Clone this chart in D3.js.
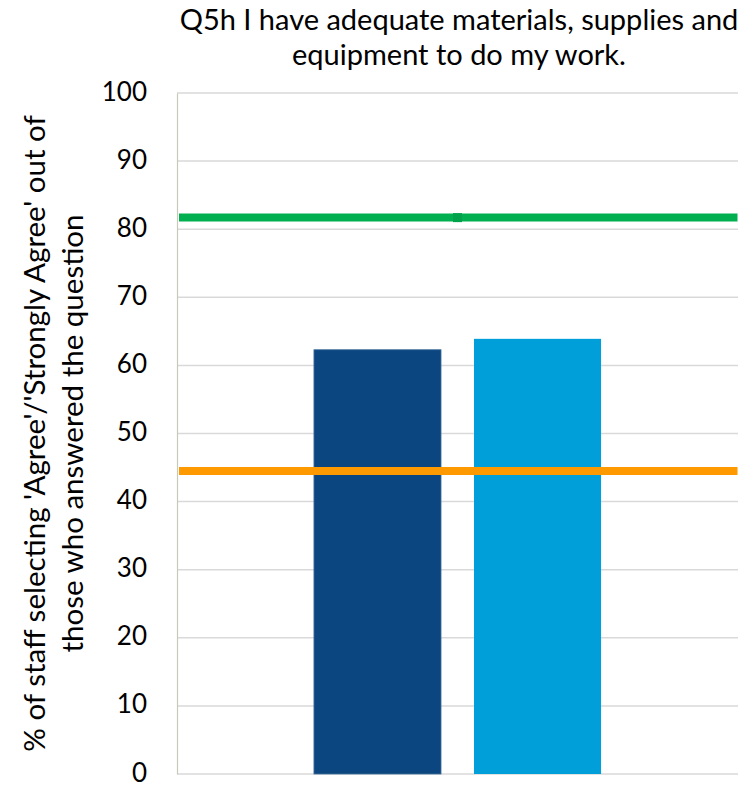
<!DOCTYPE html>
<html>
<head>
<meta charset="utf-8">
<script src="https://cdn.jsdelivr.net/npm/d3@7"></script>
<style>
  html, body { margin: 0; padding: 0; background: #ffffff; }
  svg { display: block; }
  text { font-family: Lato, "Open Sans", sans-serif; fill: #000; }
</style>
</head>
<body>
<svg id="chart" width="745" height="786"></svg>
<script>
// ---- data ----
const titleLines = ["Q5h I have adequate materials, supplies and", "equipment to do my work."];
const yTitleLines = ["% of staff selecting 'Agree'/'Strongly Agree' out of", "those who answered the question"];
const categories = ["Q5h"];
const seriesNames = ["Organisation", "Comparator"];
const seriesValues = [62.3, 63.9];
const seriesColors = ["#0b4680", "#009fda"];
const refLineNames = ["Best", "Worst"];
const refLineValues = [81.7, 44.5];
const refLineColors = ["#00b050", "#ff9900"];
const yTicks = [0, 10, 20, 30, 40, 50, 60, 70, 80, 90, 100];

// ---- layout ----
const svg = d3.select("#chart");
const plot = { left: 177, right: 738, top: 93, bottom: 774 };

const y = d3.scaleLinear().domain([0, 100]).range([plot.bottom, plot.top]);
const x0 = d3.scaleBand().domain(categories).range([plot.left, plot.right])
  .paddingInner(0).paddingOuter(0.477);
const x1 = d3.scaleBand().domain(seriesNames).range([0, x0.bandwidth()])
  .paddingInner(0.206).paddingOuter(0);

// gridlines
svg.append("g")
  .selectAll("line").data(yTicks).join("line")
  .attr("x1", plot.left).attr("x2", plot.right)
  .attr("y1", d => y(d)).attr("y2", d => y(d))
  .attr("stroke", "#d9d9d9").attr("stroke-width", 1.5);

// y axis
const yAxis = d3.axisLeft(y).tickValues(yTicks).tickSize(0).tickPadding(30);
const gy = svg.append("g").attr("transform", `translate(${plot.left},0)`).call(yAxis);
gy.select(".domain").attr("stroke", "#c9c9b8").attr("stroke-width", 1.2);
gy.selectAll("text").attr("font-size", 26).attr("dy", "0.27em")
  .attr("font-family", "Lato, sans-serif").attr("fill", "#000");

// bars
svg.append("g").selectAll("g").data(categories).join("g")
  .attr("transform", d => `translate(${x0(d)},0)`)
  .selectAll("rect").data(() => seriesNames.map((n, i) => ({ n, v: seriesValues[i], c: seriesColors[i] })))
  .join("rect")
  .attr("x", d => x1(d.n))
  .attr("width", x1.bandwidth())
  .attr("y", d => y(d.v))
  .attr("height", d => y(0) - y(d.v))
  .attr("fill", d => d.c)
  .attr("stroke", (d, i) => i === 0 ? "#456f9b" : "none")
  .attr("stroke-width", 0.8);

// reference lines
const refs = refLineNames.map((n, i) => ({ n, v: refLineValues[i], c: refLineColors[i] }));
svg.append("g").selectAll("line").data(refs).join("line")
  .attr("x1", plot.left + 2).attr("x2", plot.right - 0.5)
  .attr("y1", d => y(d.v)).attr("y2", d => y(d.v))
  .attr("stroke", d => d.c).attr("stroke-width", 8);

// marker on the green line at category center
const catCenter = x0(categories[0]) + x0.bandwidth() / 2;
svg.append("rect")
  .attr("x", catCenter - 4.5).attr("y", y(refLineValues[0]) - 4.5)
  .attr("width", 9).attr("height", 9)
  .attr("fill", "#00a34b");

// title
const title = svg.append("text")
  .attr("text-anchor", "middle")
  .attr("font-size", 29);
titleLines.forEach((t, i) => {
  title.append("tspan").attr("x", 459).attr("y", 30 + i * 35).text(t);
});

// y axis title
const yt = svg.append("text")
  .attr("text-anchor", "middle")
  .attr("font-size", 29.5)
  .attr("transform", `translate(0, ${(plot.top + plot.bottom) / 2}) rotate(-90)`);
yTitleLines.forEach((t, i) => {
  yt.append("tspan").attr("x", 0).attr("y", 45 + i * 38).text(t);
});
</script>
</body>
</html>
